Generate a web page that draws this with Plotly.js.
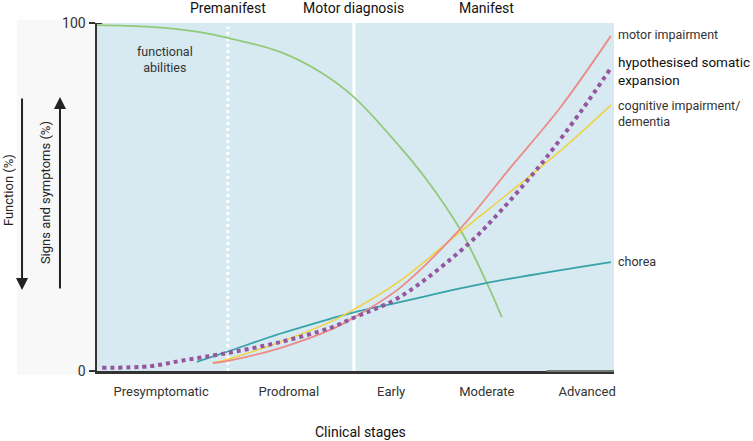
<!DOCTYPE html>
<html>
<head>
<meta charset="utf-8">
<script src="https://cdn.plot.ly/plotly-3.0.1.min.js"></script>
<style>
  html, body { margin: 0; padding: 0; background: #fff; }
  #chart { width: 753px; height: 441px; }
</style>
</head>
<body>
<div id="chart"></div>
<script>
// Stage ticks along the x axis (0-100 disease course)
const stageTicks = [12.4, 37.1, 56.9, 75.4, 94.8];
const stageLabels = ['Presymptomatic', 'Prodromal', 'Early', 'Moderate', 'Advanced'];

// Phase markers at the top
const phaseX = [25.3, 49.7, 75.4];
const phaseLabels = ['Premanifest', 'Motor diagnosis', 'Manifest'];

// Curves
const functionX = [0, 10.3, 19.9, 25.3, 35.4, 43.1, 49.7, 58.6, 63.8, 70.2, 75.4, 78.3];
const functionY = [99.4, 98.9, 97.4, 95.7, 91.7, 86.0, 78.7, 64.4, 54.9, 40.8, 25.3, 15.5];

const motorX = [22.4, 25.3, 35.4, 45.1, 49.5, 58.6, 70.2, 80.0, 89.5, 99.4];
const motorY = [2.3, 2.9, 6.6, 11.8, 15.2, 23.9, 40.8, 58.5, 75.5, 96.3];

const cognitiveX = [22.4, 25.3, 35.4, 45.1, 49.5, 58.6, 70.2, 82.8, 90.9, 99.4];
const cognitiveY = [2.3, 3.4, 8.3, 14.1, 17.5, 25.9, 39.9, 54.9, 64.9, 76.4];

const choreaX = [19.3, 25.3, 35.4, 45.1, 49.5, 58.6, 75.4, 99.4];
const choreaY = [2.6, 5.6, 10.7, 15.0, 16.8, 19.8, 25.3, 31.3];

const somaticX = [1.0, 10.3, 16.1, 25.3, 35.4, 45.1, 49.5, 58.6, 71.6, 77.9, 83.8, 87.0, 93.8, 99.4];
const somaticY = [0.9, 1.4, 2.9, 5.2, 8.3, 12.4, 15.2, 21.3, 36.2, 45.7, 55.7, 61.5, 75.0, 87.1];

const FONT = 'Roboto, "Open Sans", sans-serif';

function line(x, y, color, width, dash) {
    return {
        x, y, type: 'scatter', mode: 'lines',
        line: { color, width, shape: 'spline', smoothing: 1, dash: dash || 'solid' },
        hoverinfo: 'skip', showlegend: false,
    };
}

const traces = [
    line(functionX, functionY, '#93c97a', 1.8),
    line(choreaX, choreaY, '#35a3a7', 1.8),
    line(cognitiveX, cognitiveY, '#f0d13c', 1.5),
    line(motorX, motorY, '#ec8b88', 1.8),
    line(somaticX, somaticY, '#95559f', 4, 'dot'),
];

const annotations = [];

phaseX.forEach((x, i) => {
    annotations.push({
        x, y: 1.043, xref: 'x', yref: 'paper', text: phaseLabels[i],
        yanchor: 'middle', showarrow: false,
        font: { family: FONT, size: 14, color: '#111' },
    });
});

const rightLabels = [
    { t: 'motor impairment', y: 0.968, size: 12.5, c: '#333' },
    { t: 'hypothesised somatic<br>expansion', y: 0.862, size: 13.5, c: '#111' },
    { t: 'cognitive impairment/<br>dementia', y: 0.74, size: 12.5, c: '#333' },
    { t: 'chorea', y: 0.316, size: 12.5, c: '#333' },
];
rightLabels.forEach(l => {
    annotations.push({
        x: 1.004, y: l.y, xref: 'paper', yref: 'paper', text: l.t,
        xanchor: 'left', yanchor: 'middle', align: 'left', showarrow: false,
        font: { family: FONT, size: l.size, color: l.c },
    });
});

annotations.push(
    {
        x: 13.2, y: 89.4, xref: 'x', yref: 'y', text: 'functional<br>abilities',
        showarrow: false, font: { family: FONT, size: 12.5, color: '#333' },
    },
    {
        x: 0.509, y: -0.175, xref: 'paper', yref: 'paper', text: 'Clinical stages',
        xanchor: 'center', yanchor: 'middle', showarrow: false,
        font: { family: FONT, size: 14, color: '#111' },
    },
    {
        x: -0.172, y: 0.52, xref: 'paper', yref: 'paper', text: 'Function (%)',
        xanchor: 'center', yanchor: 'middle',
        textangle: -90, showarrow: false, font: { family: FONT, size: 13, color: '#222' },
    },
    {
        x: -0.1006, y: 0.514, xref: 'paper', yref: 'paper', text: 'Signs and symptoms (%)',
        xanchor: 'center', yanchor: 'middle',
        textangle: -90, showarrow: false, font: { family: FONT, size: 13, color: '#222' },
    },
    // down arrow (function)
    {
        x: -0.145, y: 0.233, xref: 'paper', yref: 'paper', text: '',
        showarrow: true, ax: 0, ay: -193, arrowhead: 2, arrowsize: 1.2, arrowwidth: 2, arrowcolor: '#222',
    },
    // up arrow (signs and symptoms)
    {
        x: -0.0716, y: 0.787, xref: 'paper', yref: 'paper', text: '',
        showarrow: true, ax: 0, ay: 193, arrowhead: 2, arrowsize: 1.2, arrowwidth: 2, arrowcolor: '#222',
    }
);

const shapes = [
    // faint panel behind the y-axis labels
    {
        type: 'rect', xref: 'paper', yref: 'paper', x0: -0.155, x1: 0, y0: -0.011, y1: 1.009,
        fillcolor: '#f8f8f8', line: { width: 0 }, layer: 'below',
    },
    {
        type: 'line', xref: 'x', yref: 'paper', x0: phaseX[0], x1: phaseX[0], y0: 0, y1: 0.99,
        line: { color: '#ffffff', width: 3, dash: 'dot' }, layer: 'below',
    },
    {
        type: 'line', xref: 'x', yref: 'paper', x0: phaseX[1], x1: phaseX[1], y0: 0, y1: 1,
        line: { color: '#ffffff', width: 3 }, layer: 'below',
    },
    // lighter end of the x axis
    {
        type: 'line', xref: 'x', yref: 'paper', x0: 87, x1: 100, y0: 0, y1: 0,
        line: { color: '#777', width: 2 },
    },
    // top tick crossing the y axis
    {
        type: 'line', xref: 'paper', yref: 'y', x0: -0.012, x1: 0.01, y0: 100, y1: 100,
        line: { color: '#333', width: 2 },
    },
];

const layout = {
    width: 753, height: 441,
    margin: { l: 97, r: 139, t: 23, b: 70 },
    paper_bgcolor: '#ffffff',
    plot_bgcolor: '#d7eaf2',
    font: { family: FONT, color: '#333' },
    xaxis: {
        range: [0, 100], showgrid: false, zeroline: false,
        showline: true, linecolor: '#333', linewidth: 2.5,
        tickvals: stageTicks, ticktext: stageLabels, ticks: '',
        ticklabelstandoff: 7,
        tickfont: { family: FONT, size: 13, color: '#333' },
    },
    yaxis: {
        range: [0, 100], showgrid: false, zeroline: false,
        showline: true, linecolor: '#333', linewidth: 2.5,
        tickvals: [0, 100], ticktext: ['0', '100'], ticks: 'outside', ticklen: 6,
        tickcolor: '#333', tickwidth: 2,
        tickfont: { family: FONT, size: 14, color: '#333' },
    },
    annotations, shapes,
    showlegend: false,
};

Plotly.newPlot('chart', traces, layout, { displayModeBar: false, staticPlot: true });
</script>
</body>
</html>
